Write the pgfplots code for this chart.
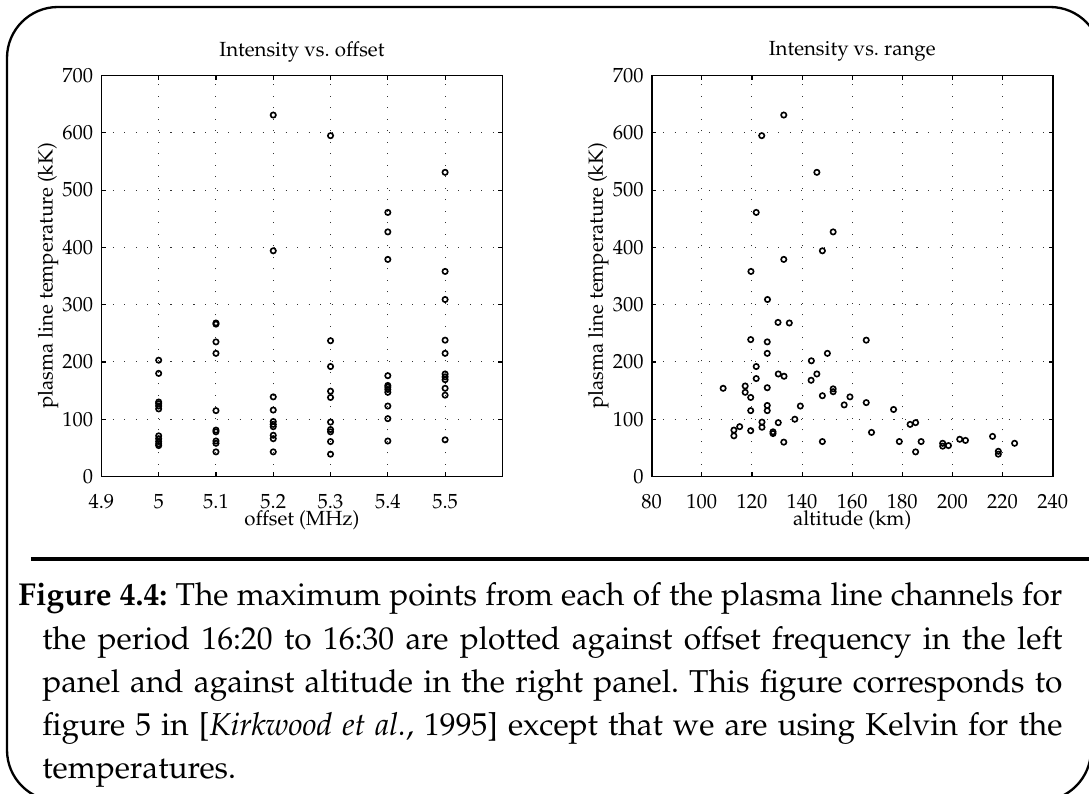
\documentclass[border=0pt]{standalone}
\usepackage[T1]{fontenc}
\usepackage{mathpazo}
\usepackage{pgfplots}
\pgfplotsset{compat=1.18}
\usepackage{pgfplotstable}

\pgfplotstableread{
x y
5.0 203
5.0 180
5.0 130
5.0 127
5.0 123
5.0 118
5.0 71
5.0 66
5.0 61
5.0 57
5.0 54
5.1 268
5.1 266
5.1 235
5.1 215
5.1 115
5.1 81
5.1 78
5.1 62
5.1 58
5.1 43
5.2 631
5.2 394
5.2 139
5.2 116
5.2 96
5.2 91
5.2 87
5.2 72
5.2 66
5.2 43
5.3 595
5.3 237
5.3 192
5.3 149
5.3 138
5.3 95
5.3 82
5.3 78
5.3 61
5.3 39
5.4 461
5.4 427
5.4 379
5.4 176
5.4 159
5.4 156
5.4 152
5.4 147
5.4 123
5.4 101
5.4 62
5.5 531
5.5 358
5.5 309
5.5 238
5.5 215
5.5 179
5.5 174
5.5 169
5.5 154
5.5 142
5.5 64
}\offsetdata

\pgfplotstableread{
x y
132.7 631
123.9 595
145.9 531
121.7 461
152.4 427
148.1 394
132.7 379
119.6 358
126.2 309
130.4 269
134.9 268
119.5 239
126.1 235
165.6 238
126.1 215
150.1 215
143.7 202
121.7 192
130.5 179
132.8 175
145.9 179
121.7 171
143.6 168
108.5 154
117.3 158
117.3 147
126.1 155
152.4 153
152.4 148
119.5 138
148.1 141
159.1 139
156.8 125
165.6 129
139.3 123
126.1 124
126.1 115
119.5 115
137.1 100
124.0 95
130.5 94
115.1 87
112.8 81
119.5 80
124.0 86
112.8 71
128.4 78
128.4 75
132.7 60
148.1 61
176.5 117
167.7 77
183.1 91
185.3 94
178.8 61
187.5 61
185.3 43
196.1 58
196.1 53
198.4 54
202.9 65
205.2 63
216.0 70
218.3 44
218.3 39
224.8 58
}\rangedata

\begin{document}
\begin{tikzpicture}
\pgfplotsset{
  myax/.style={
    scale only axis,
    width=172.43pt, height=172.43pt,
    ymin=0, ymax=700, ytick={0,100,...,700},
    axis line style={line width=0.7pt},
    tick align=inside, major tick length=1.8pt,
    tick style={line width=0.5pt, black},
    grid=major,
    major grid style={line width=0.45pt, dash pattern=on 0.45pt off 4.5pt, black!80},
    tick label style={font=\fontsize{8.8}{10.5}\selectfont},
    label style={font=\fontsize{8.8}{10.5}\selectfont},
    title style={font=\fontsize{8.8}{10.5}\selectfont, at={(axis description cs:0.5,1.0249)}, anchor=center},
    xticklabel style={yshift=-4pt},
    xlabel style={at={(axis description cs:0.5,-0.1085)}, anchor=center},
    ylabel style={at={(axis description cs:-0.133,0.5)}, anchor=center},
    ylabel={plasma line temperature (kK)},
  },
  mymarks/.style={only marks, mark=o, mark size=1.15pt, mark options={line width=0.7pt, black}},
}

\begin{axis}[myax, at={(43.6pt,-204.9pt)}, anchor=south west,
  xmin=4.9, xmax=5.6, xtick={4.9,5,5.1,5.2,5.3,5.4,5.5},
  title={Intensity vs.\ offset}, xlabel={offset (MHz)}]
\addplot[mymarks] table[x=x,y=y] {\offsetdata};
\end{axis}

\begin{axis}[myax, at={(280.23pt,-204.9pt)}, anchor=south west,
  xmin=80, xmax=240, xtick={80,100,...,240},
  title={Intensity vs.\ range}, xlabel={altitude (km)}]
\addplot[mymarks] table[x=x,y=y] {\rangedata};
\end{axis}

\begin{scope}[x=0.43pt, y=-0.43pt]
  \draw[line width=1pt] (7,750) -- (7,58)
     .. controls (7,29.8) and (29.8,7) .. (58,7) -- (1050,7)
     .. controls (1078.2,7) and (1101,29.8) .. (1101,58) -- (1091,750)
     .. controls (1091,778.2) and (1068.2,801) .. (1040,801) -- (58,801)
     .. controls (29.8,801) and (7,778.2) .. (7,750) -- cycle;
  \draw[line width=1.4pt] (31,559) -- (1110,559);
  \node[anchor=base west, inner sep=0pt, text width=448.9pt, align=justify] at (18,606)
   {\fontsize{13.6}{18.5}\selectfont\frenchspacing
    \hangindent=10.3pt\hangafter=1 \textbf{Figure 4.4:} The maximum points from each of the plasma line channels for\linebreak
    the period 16:20 to 16:30 are plotted against offset frequency in the left\linebreak
    panel and against altitude in the right panel. This figure corresponds to\linebreak
    figure 5 in [\textit{Kirkwood et al.}, 1995] except that we are using Kelvin for the\linebreak
    temperatures.\par};
\end{scope}

\pgfresetboundingbox
\path[use as bounding box] (0pt,0pt) rectangle (468.27pt,-341.42pt);
\end{tikzpicture}
\end{document}
